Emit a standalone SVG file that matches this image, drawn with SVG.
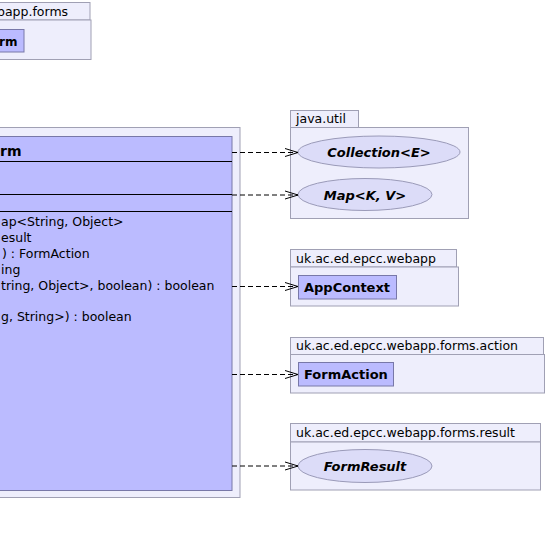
<svg xmlns="http://www.w3.org/2000/svg" width="547" height="536" viewBox="0 0 547 536">
<defs>
<style>
.pkg{fill:#eeeefc;stroke:#a0a0b4;stroke-width:1}
.cls{fill:#bbbbff;stroke:#7878a8;stroke-width:1}
.ell{fill:#dcdcf8;stroke:#9a9ab8;stroke-width:1}
.sep{stroke:#000;stroke-width:1}
.t{font-family:"DejaVu Sans",sans-serif;font-size:12.5px;fill:#000}
.b{font-family:"DejaVu Sans",sans-serif;font-weight:bold;font-size:13px;fill:#000}
.bi{font-family:"DejaVu Sans",sans-serif;font-weight:bold;font-style:italic;font-size:13px;fill:#000}
.dep{fill:none;stroke:#000;stroke-width:1;stroke-dasharray:5,3}
</style>
<marker id="vee" viewBox="0 0 14 10" refX="13" refY="5" markerWidth="14" markerHeight="10" markerUnits="userSpaceOnUse" orient="auto">
<path d="M0,1 L13,5 L0,9" fill="none" stroke="#000" stroke-width="1"/>
</marker>
</defs>
<rect width="547" height="536" fill="#fff"/>

<g id="pkg-forms-top">
<rect class="pkg" x="-5" y="2.5" width="95" height="17.5"/>
<rect class="pkg" x="-5" y="20" width="96" height="39.5"/>
<text class="t" x="-3" y="16">bapp.forms</text>
<rect class="cls" x="-5" y="29.5" width="29" height="22.5"/>
<text class="b" x="-1" y="46" style="font-size:12px">rm</text>
</g>

<g id="pkg-forms-main">
<rect class="pkg" x="-5" y="127.5" width="245" height="370"/>
<g id="class-form">
<rect class="cls" x="-5" y="136.5" width="237" height="354"/>
<line class="sep" x1="-5" y1="161.5" x2="232" y2="161.5"/>
<line class="sep" x1="-5" y1="194.5" x2="232" y2="194.5"/>
<line class="sep" x1="-5" y1="211.5" x2="232" y2="211.5"/>
<text class="b" x="0" y="156" style="font-size:14px">rm</text>
<text class="t" x="1" y="226">ap&lt;String, Object&gt;</text>
<text class="t" x="1" y="242">esult</text>
<text class="t" x="2" y="258">) : FormAction</text>
<text class="t" x="1" y="274">ing</text>
<text class="t" x="1" y="290">tring, Object&gt;, boolean) : boolean</text>
<text class="t" x="1" y="321">g, String&gt;) : boolean</text>
</g>
</g>

<g id="pkg-java-util">
<rect class="pkg" x="290.5" y="110.5" width="68" height="17"/>
<rect class="pkg" x="290.5" y="127.5" width="178" height="91"/>
<text class="t" x="296" y="123">java.util</text>
<g id="node-collection">
<ellipse class="ell" cx="379" cy="152" rx="81" ry="16"/>
<text class="bi" x="379" y="157" text-anchor="middle">Collection&lt;E&gt;</text>
</g>
<g id="node-map">
<ellipse class="ell" cx="365" cy="194.5" rx="67" ry="16"/>
<text class="bi" x="365" y="199.5" text-anchor="middle">Map&lt;K, V&gt;</text>
</g>
</g>

<g id="pkg-webapp">
<rect class="pkg" x="290.5" y="249.5" width="166" height="17.5"/>
<rect class="pkg" x="290.5" y="267" width="168" height="39"/>
<text class="t" x="296" y="263">uk.ac.ed.epcc.webapp</text>
<g id="node-appcontext">
<rect class="cls" x="298.5" y="275.5" width="98" height="23.5"/>
<text class="b" x="304" y="292">AppContext</text>
</g>
</g>

<g id="pkg-action">
<rect class="pkg" x="290.5" y="337.5" width="253" height="17"/>
<rect class="pkg" x="290.5" y="354.5" width="254" height="38.5"/>
<text class="t" x="296" y="350">uk.ac.ed.epcc.webapp.forms.action</text>
<g id="node-formaction">
<rect class="cls" x="298.5" y="362.5" width="95" height="23.5"/>
<text class="b" x="304" y="379">FormAction</text>
</g>
</g>

<g id="pkg-result">
<rect class="pkg" x="290.5" y="423.5" width="250" height="18.5"/>
<rect class="pkg" x="290.5" y="442" width="250" height="48"/>
<text class="t" x="296" y="437">uk.ac.ed.epcc.webapp.forms.result</text>
<g id="node-formresult">
<ellipse class="ell" cx="365" cy="466" rx="67" ry="16.5"/>
<text class="bi" x="365" y="471" text-anchor="middle">FormResult</text>
</g>
</g>

<g id="connectors">
<line class="dep" x1="232" y1="152.5" x2="298" y2="152.5" marker-end="url(#vee)"/>
<line class="dep" x1="232" y1="195" x2="298" y2="195" marker-end="url(#vee)"/>
<line class="dep" x1="232" y1="286.5" x2="298" y2="286.5" marker-end="url(#vee)"/>
<line class="dep" x1="232" y1="374.5" x2="298" y2="374.5" marker-end="url(#vee)"/>
<line class="dep" x1="232" y1="466" x2="298" y2="466" marker-end="url(#vee)"/>
</g>
</svg>
